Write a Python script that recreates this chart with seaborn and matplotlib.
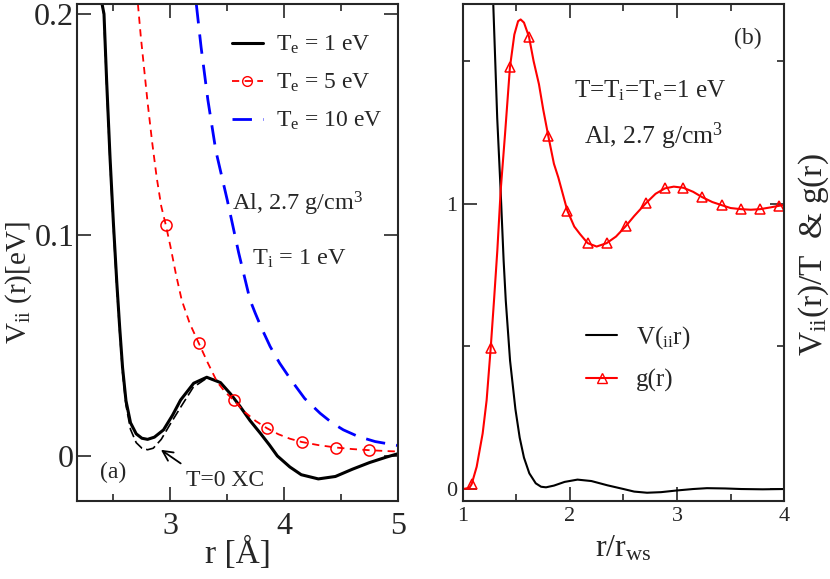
import numpy as np
import pandas as pd
import seaborn as sns
import matplotlib.pyplot as plt
from matplotlib.lines import Line2D
from matplotlib.ticker import MultipleLocator

# ---- panel (a): V_ii(r) in eV vs r in Angstrom ----
r_te1 = [2.40, 2.417, 2.44, 2.47, 2.50, 2.53, 2.555, 2.58, 2.61, 2.65, 2.70, 2.75, 2.80,
         2.86, 2.94, 3.02, 3.09, 3.205, 3.32, 3.44, 3.53, 3.614, 3.70, 3.79, 3.87, 3.94,
         4.05, 4.15, 4.30, 4.45, 4.60, 4.75, 4.90, 5.00]
v_te1 = [0.2045, 0.200, 0.170, 0.135, 0.105, 0.078, 0.058, 0.040, 0.025, 0.015, 0.010,
         0.0080, 0.0075, 0.0085, 0.0118, 0.0185, 0.0253, 0.0329, 0.0356, 0.0332, 0.028,
         0.0223, 0.016, 0.0103, 0.005, 0.0, -0.005, -0.0085, -0.0104, -0.0093, -0.006,
         -0.003, -0.0005, 0.001]

r_xc0 = [2.40, 2.415, 2.44, 2.47, 2.50, 2.53, 2.555, 2.58, 2.61, 2.65, 2.70, 2.75, 2.80,
         2.85, 2.92, 3.00, 3.09, 3.20, 3.32, 3.42]
v_xc0 = [0.2045, 0.200, 0.168, 0.133, 0.103, 0.076, 0.056, 0.038, 0.023, 0.012, 0.006,
         0.0035, 0.0028, 0.0035, 0.0075, 0.0145, 0.022, 0.031, 0.0352, 0.0340]

r_te5 = [2.715, 2.74, 2.77, 2.80, 2.84, 2.88, 2.92, 2.96, 3.00, 3.05, 3.10, 3.17, 3.25,
         3.33, 3.41, 3.48, 3.555, 3.65, 3.75, 3.85, 3.95, 4.05, 4.155, 4.30, 4.456, 4.60,
         4.748, 4.90, 5.00]
v_te5 = [0.2045, 0.190, 0.175, 0.160, 0.142, 0.126, 0.113, 0.1045, 0.095, 0.082, 0.0705,
         0.060, 0.051, 0.042, 0.0336, 0.029, 0.0253, 0.020, 0.0158, 0.0125, 0.0098, 0.0078,
         0.0063, 0.0049, 0.0038, 0.0031, 0.0026, 0.0022, 0.0020]
r_te5_mark = [2.962, 3.255, 3.555, 3.852, 4.155, 4.456, 4.748]
v_te5_mark = [0.1045, 0.051, 0.0253, 0.0125, 0.0063, 0.0038, 0.0026]

r_te10 = [3.228, 3.27, 3.33, 3.40, 3.50, 3.60, 3.70, 3.746, 3.80, 3.877, 3.96, 4.06, 4.18,
          4.316, 4.42, 4.52, 4.65, 4.80, 5.00]
v_te10 = [0.2045, 0.185, 0.161, 0.138, 0.1158, 0.092, 0.0706, 0.0646, 0.058, 0.0495, 0.042,
          0.0344, 0.026, 0.0193, 0.015, 0.0118, 0.0088, 0.0065, 0.0047]

# ---- panel (b): V_ii(r)/T and g(r) vs r/r_ws ----
x_vt = [1.283, 1.32, 1.352, 1.38, 1.40, 1.44, 1.49, 1.53, 1.57, 1.62, 1.68, 1.73, 1.776,
        1.85, 1.95, 2.07, 2.20, 2.35, 2.50, 2.60, 2.72, 2.85, 3.00, 3.15, 3.28, 3.45, 3.60,
        3.80, 4.00]
y_vt = [1.70, 1.30, 1.045, 0.80, 0.66, 0.45, 0.28, 0.18, 0.11, 0.055, 0.020, 0.008, 0.006,
        0.012, 0.025, 0.033, 0.028, 0.013, 0.0, -0.009, -0.013, -0.011, -0.005, 0.0, 0.003,
        0.002, 0.0, -0.001, 0.0]

x_g = [1.00, 1.06, 1.081, 1.128, 1.184, 1.221, 1.259, 1.29, 1.321, 1.352, 1.393, 1.439,
       1.48, 1.515, 1.539, 1.57, 1.617, 1.66, 1.71, 1.75, 1.797, 1.85, 1.891, 1.975, 2.04,
       2.093, 2.165, 2.249, 2.343, 2.43, 2.52, 2.60, 2.707, 2.80, 2.888, 2.97, 3.06, 3.15,
       3.236, 3.33, 3.418, 3.50, 3.598, 3.69, 3.776, 3.87, 3.956, 4.00]
y_g = [0.0, 0.004, 0.017, 0.078, 0.195, 0.311, 0.494, 0.661, 0.836, 1.045, 1.244, 1.479,
       1.593, 1.640, 1.646, 1.635, 1.585, 1.50, 1.419, 1.33, 1.238, 1.14, 1.092, 0.976, 0.92,
       0.894, 0.862, 0.850, 0.862, 0.885, 0.921, 0.957, 1.001, 1.035, 1.054, 1.060, 1.056,
       1.042, 1.023, 1.006, 0.995, 0.985, 0.981, 0.979, 0.981, 0.987, 0.993, 0.995]
x_g_mark = [1.081, 1.259, 1.439, 1.617, 1.797, 1.975, 2.165, 2.343, 2.52, 2.707, 2.888,
            3.06, 3.236, 3.418, 3.598, 3.776, 3.956]
y_g_mark = [0.017, 0.494, 1.479, 1.585, 1.238, 0.976, 0.862, 0.862, 0.921, 1.001, 1.054,
            1.056, 1.023, 0.995, 0.981, 0.981, 0.993]

sns.set_style('ticks')
plt.rcParams['font.family'] = ['Liberation Serif', 'DejaVu Serif']
plt.rcParams['mathtext.fontset'] = 'custom'
plt.rcParams['mathtext.rm'] = 'Liberation Serif'
plt.rcParams['mathtext.it'] = 'Liberation Serif:italic'
plt.rcParams['axes.linewidth'] = 1.5

fig = plt.figure(figsize=(8.3, 5.79), dpi=100)
ax1 = fig.add_axes([0.0928, 0.1347, 0.3867, 0.8583])
ax2 = fig.add_axes([0.5578, 0.1347, 0.3868, 0.8583])


def line(ax, x, y, **kw):
    sns.lineplot(x=x, y=y, ax=ax, sort=False, estimator=None, legend=False, **kw)


# panel (a)
line(ax1, r_te1, v_te1, color='black', linewidth=2.2)
line(ax1, r_xc0, v_xc0, color='black', linewidth=1.2, linestyle=(0, (6, 2.5)))
line(ax1, r_te5, v_te5, color='red', linewidth=1.3, linestyle=(0, (4, 3)))
line(ax1, r_te5_mark, v_te5_mark, color='red', linestyle='none', marker='o',
     markersize=8, mfc='none', mec='red', mew=1.1)
line(ax1, r_te10, v_te10, color='blue', linewidth=2.0, linestyle=(0, (7, 4)))

ax1.set_xlim(2.18, 5.0)
ax1.set_ylim(-0.0204, 0.2045)
ax1.xaxis.set_major_locator(MultipleLocator(1))
ax1.xaxis.set_minor_locator(MultipleLocator(0.5))
ax1.set_yticks([0, 0.1, 0.2])
ax1.set_yticklabels(['0', '0.1', '0.2'])
ax1.tick_params(which='both', direction='in', top=True, right=True, width=1.2)
ax1.tick_params(which='major', length=10, labelsize=23)
ax1.tick_params(axis='x', which='major', pad=8)
ax1.tick_params(axis='y', which='major', pad=2)
ax1.tick_params(which='minor', length=5)
ax1.set_xlabel(r'r [Å]', fontsize=24)
ax1.xaxis.set_label_coords(0.5, -0.072)
ax1.set_ylabel(r'V$_{\mathrm{ii}}$ (r)[eV]', fontsize=21)
ax1.yaxis.set_label_coords(-0.133, 0.44)

h1 = [Line2D([], [], color='black', lw=2.2),
      Line2D([], [], color='red', lw=1.3, ls=(0, (4, 3)), marker='o', mfc='none',
             mec='red', markersize=7, markevery=[0, -1]),
      Line2D([], [], color='blue', lw=2.0, ls=(0, (7, 4)))]
ax1.legend(h1, [r'T$_{\mathrm{e}}$ = 1 eV', r'T$_{\mathrm{e}}$ = 5 eV',
                r'T$_{\mathrm{e}}$ = 10 eV'],
           loc='upper left', bbox_to_anchor=(0.483, 0.94), frameon=False, fontsize=17,
           handlelength=1.3, handletextpad=0.55, labelspacing=0.67, borderpad=0,
           borderaxespad=0)

ax1.text(4.12, 0.114, r'Al, 2.7 g/cm$^{3}$', fontsize=17.5, ha='center', va='center')
ax1.text(4.13, 0.089, r'T$_{\mathrm{i}}$ = 1 eV', fontsize=17.5, ha='center', va='center')
ax1.text(2.50, -0.0076, '(a)', fontsize=17, ha='center', va='center')
ax1.text(3.48, -0.0109, 'T=0 XC', fontsize=17, ha='center', va='center')
ax1.annotate('', xy=(2.897, 0.0035), xytext=(3.111, -0.0041),
             arrowprops=dict(arrowstyle='->', color='black', lw=1.3,
                             mutation_scale=18))

# panel (b)
line(ax2, x_vt, y_vt, color='black', linewidth=1.5)
line(ax2, x_g, y_g, color='red', linewidth=1.5)
line(ax2, x_g_mark, y_g_mark, color='red', linestyle='none', marker='^',
     markersize=7, mfc='none', mec='red', mew=1.1)

ax2.set_xlim(1.0, 4.0)
ax2.set_ylim(-0.042, 1.70)
ax2.xaxis.set_major_locator(MultipleLocator(1))
ax2.xaxis.set_minor_locator(MultipleLocator(0.5))
ax2.yaxis.set_major_locator(MultipleLocator(1))
ax2.yaxis.set_minor_locator(MultipleLocator(0.5))
ax2.tick_params(which='both', direction='in', top=True, right=True, width=1.2)
ax2.tick_params(which='major', length=10, labelsize=16)
ax2.tick_params(axis='x', which='major', pad=4)
ax2.tick_params(axis='y', which='major', pad=4)
ax2.tick_params(which='minor', length=5)
ax2.set_xlabel(r'r/r$_{\mathrm{ws}}$', fontsize=23)
ax2.xaxis.set_label_coords(0.5, -0.066)
ax2.yaxis.set_label_position('right')
ax2.set_ylabel(r'V$_{\mathrm{ii}}$(r)/T  & g(r)', fontsize=24)
ax2.yaxis.set_label_coords(1.04, 0.495)

h2 = [Line2D([], [], color='black', lw=1.5),
      Line2D([], [], color='red', lw=1.5, marker='^', mfc='none', mec='red',
             markersize=7, markevery=[0, -1])]
ax2.legend(h2, [r'V($_{\mathrm{ii}}$r)', 'g(r)'], loc='upper left',
           bbox_to_anchor=(0.383, 0.356), frameon=False, fontsize=18,
           handlelength=1.25, handletextpad=0.75, labelspacing=0.72, borderpad=0,
           borderaxespad=0)

ax2.text(3.66, 1.58, '(b)', fontsize=17, ha='center', va='center')
ax2.text(2.75, 1.395, r'T=T$_{\mathrm{i}}$=T$_{\mathrm{e}}$=1 eV', fontsize=18,
         ha='center', va='center')
ax2.text(2.78, 1.238, r'Al, 2.7 g/cm$^{3}$', fontsize=18.5, ha='center', va='center')

fig.savefig('out.png', dpi=100)
